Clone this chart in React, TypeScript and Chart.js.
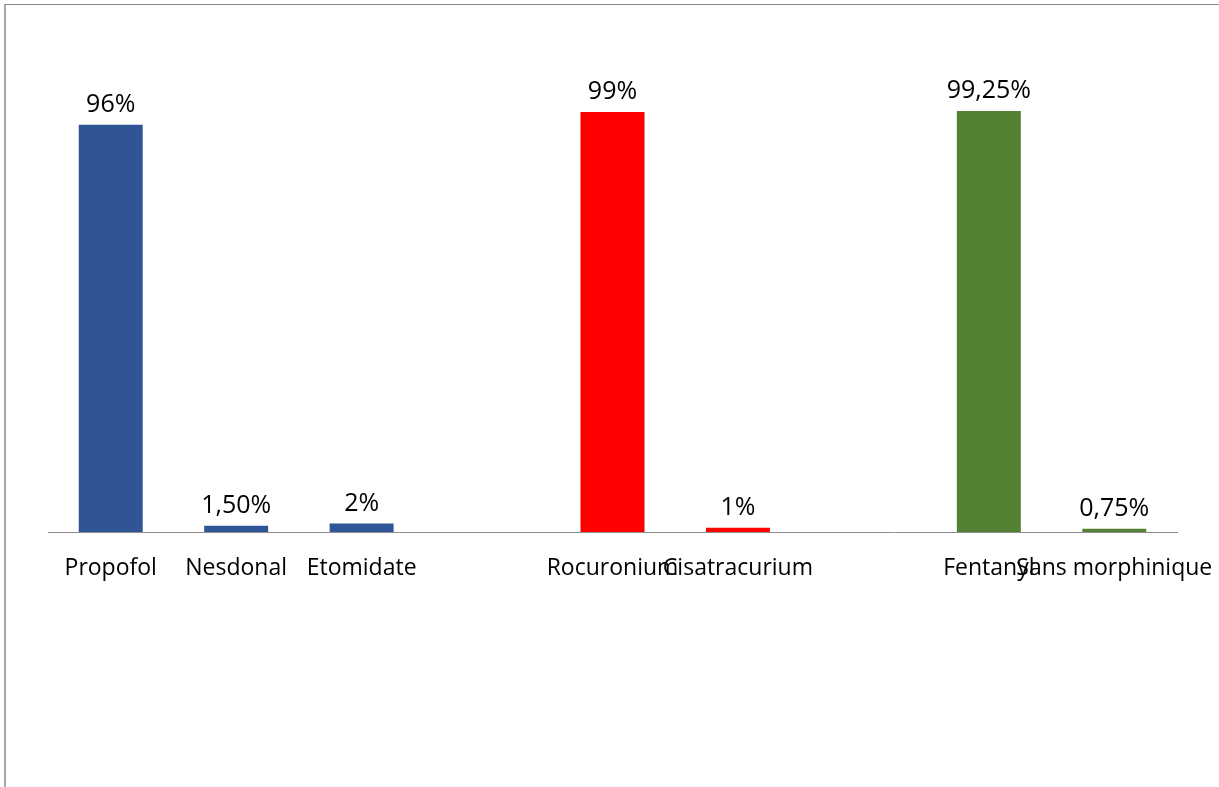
import React, { useEffect, useRef } from "react";
import { Chart, registerables } from "chart.js";

Chart.register(...registerables);

const categories = ["Propofol", "Nesdonal", "Etomidate", "", "Rocuronium", "Cisatracurium", "", "Fentanyl", "Sans morphinique"];
const values: (number | null)[] = [96, 1.5, 2, null, 99, 1, null, 99.25, 0.75];
const valueLabels = ["96%", "1,50%", "2%", "", "99%", "1%", "", "99,25%", "0,75%"];
const barColors = ["#2F5597", "#2F5597", "#2F5597", "#2F5597", "#FF0000", "#FF0000", "#548235", "#548235", "#548235"];

const FONT = "'Open Sans', sans-serif";

const labelPlugin = {
  id: "valueLabels",
  afterDatasetsDraw(chart: any) {
    const ctx = chart.ctx;
    const meta = chart.getDatasetMeta(0);
    ctx.save();
    ctx.font = `25px ${FONT}`;
    ctx.fillStyle = "#000";
    ctx.textAlign = "center";
    ctx.textBaseline = "alphabetic";
    meta.data.forEach((bar: any, i: number) => {
      const v = values[i];
      if (v === null || v === undefined) return;
      ctx.fillText(valueLabels[i], bar.x, bar.y - 13);
    });
    ctx.restore();
  },
};

export default function App() {
  const ref = useRef<HTMLCanvasElement | null>(null);
  useEffect(() => {
    document.body.style.margin = "0";
    if (!ref.current) return;
    const chart = new Chart(ref.current, {
      type: "bar",
      data: {
        labels: categories,
        datasets: [
          {
            data: values,
            backgroundColor: barColors,
            categoryPercentage: 1,
            barPercentage: 0.51,
          },
        ],
      },
      options: {
        animation: false,
        responsive: false,
        layout: { padding: { left: 48, right: 42, top: 23, bottom: 204 } },
        plugins: { legend: { display: false }, tooltip: { enabled: false } },
        scales: {
          x: {
            grid: { display: false, drawTicks: false, tickLength: 0 },
            border: { display: true, color: "#8c8c8c", width: 1 },
            ticks: {
              autoSkip: false,
              maxRotation: 0,
              minRotation: 0,
              padding: 23,
              color: "#000",
              font: { family: FONT, size: 23 },
            },
            afterFit: (s: any) => {
              s.height = 51;
              s.paddingLeft = 0;
              s.paddingRight = 0;
            },
          },
          y: { display: false, min: 0, max: 120 },
        },
      },
      plugins: [labelPlugin],
    });
    return () => chart.destroy();
  }, []);
  return (
    <div style={{ position: "relative", width: 1219, height: 787, background: "#fff" }}>
      <canvas ref={ref} width={1219} height={787} style={{ position: "absolute", left: 0, top: 0 }} />
      <div
        style={{
          position: "absolute",
          left: 4,
          top: 4,
          width: 1300,
          height: 900,
          borderLeft: "2px solid #a6a6a6",
          borderTop: "1px solid #8a8a8a",
          pointerEvents: "none",
        }}
      />
    </div>
  );
}
